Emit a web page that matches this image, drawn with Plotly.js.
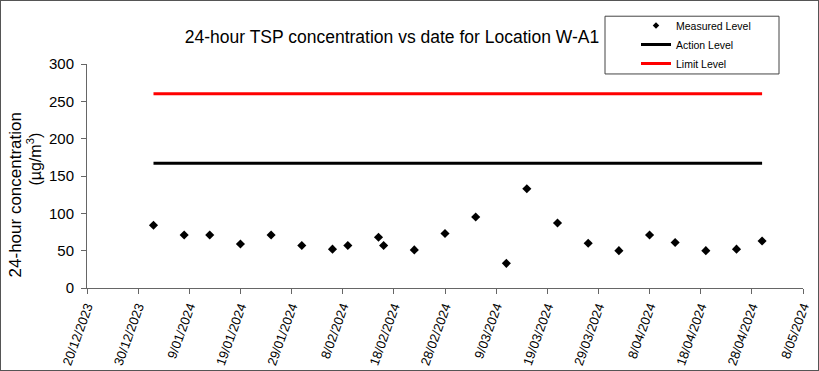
<!DOCTYPE html>
<html>
<head>
<meta charset="utf-8">
<script src="https://cdn.plot.ly/plotly-3.0.1.min.js"></script>
<style>
  html, body { margin: 0; padding: 0; background: #fff; }
  #wrap { position: relative; width: 819px; height: 371px; }
  #chart { width: 819px; height: 371px; }
  #frame { position: absolute; left: 0; top: 0; width: 819px; height: 371px; box-sizing: border-box; border: 1px solid #555; pointer-events: none; }
</style>
</head>
<body>
<div id="wrap"><div id="chart"></div><div id="frame"></div></div>
<script>
// Measured 24-hour TSP levels
const sampleDates = ['2024-01-02','2024-01-08','2024-01-13','2024-01-19','2024-01-25','2024-01-31',
  '2024-02-06','2024-02-09','2024-02-15','2024-02-16','2024-02-22','2024-02-28',
  '2024-03-05','2024-03-11','2024-03-15','2024-03-21','2024-03-27','2024-04-02',
  '2024-04-08','2024-04-13','2024-04-19','2024-04-25','2024-04-30'];
const measuredLevel = [84, 71, 71, 59, 71, 57, 52, 57, 68, 57, 51, 73, 95, 33, 133, 87, 60, 50, 71, 61, 50, 52, 63];
const levelDates = ['2024-01-02', '2024-04-30'];
const actionLevel = [167, 167];
const limitLevel = [260, 260];

const FONT = 'Liberation Sans, Arial, sans-serif';
const NARROW = 'Liberation Sans Narrow, Liberation Sans, Arial, sans-serif';

const traces = [
  { x: sampleDates, y: measuredLevel, type: 'scatter', mode: 'markers', name: 'Measured Level',
    showlegend: false, legendgroup: 'm',
    marker: { symbol: 'diamond', size: 7, color: '#000' } },
  // legend-only entry with a smaller symbol, as in the reference legend
  { x: [null], y: [null], type: 'scatter', mode: 'markers', name: 'Measured Level', legendgroup: 'm',
    marker: { symbol: 'diamond', size: 5, color: '#000' } },
  { x: levelDates, y: actionLevel, type: 'scatter', mode: 'lines', name: 'Action Level',
    line: { color: '#000', width: 3 } },
  { x: levelDates, y: limitLevel, type: 'scatter', mode: 'lines', name: 'Limit Level',
    line: { color: '#ff0000', width: 3 } }
];

const L = 87, R = 803, T = 63, B = 288;
const px = v => (v - L) / (R - L);
const py = v => (B - v) / (B - T);

const layout = {
  width: 819, height: 371,
  margin: { l: L, r: 819 - R, t: T, b: 371 - B },
  paper_bgcolor: '#fff', plot_bgcolor: '#fff',
  font: { family: FONT, color: '#000' },
  title: { text: '24-hour TSP concentration vs date for Location W-A1', font: { size: 17.5, family: FONT, color: '#000' },
    xref: 'container', yref: 'container', x: 392 / 819, y: 1 - 37 / 371, xanchor: 'center', yanchor: 'middle' },
  xaxis: {
    type: 'date', range: ['2023-12-20', '2024-05-08'],
    tick0: '2023-12-20', dtick: 864000000, tickformat: '%-d/%m/%Y',
    tickangle: -70, tickfont: { size: 13, family: FONT },
    ticks: 'outside', ticklen: 5, tickcolor: '#666',
    showline: true, linecolor: '#666', linewidth: 1, showgrid: false, zeroline: false
  },
  yaxis: {
    range: [0, 300], dtick: 50, tickfont: { size: 15, family: FONT },
    ticks: 'outside', ticklen: 5, tickcolor: '#666', ticklabelstandoff: 4,
    showline: true, linecolor: '#666', linewidth: 1, showgrid: false, zeroline: false
  },
  showlegend: true,
  legend: {
    x: px(636), y: py(11), xanchor: 'left', yanchor: 'top',
    font: { size: 10.5, family: NARROW }, bgcolor: 'rgba(0,0,0,0)', borderwidth: 0,
    tracegroupgap: 0, itemwidth: 30
  },
  shapes: [
    { type: 'rect', xref: 'paper', yref: 'paper', x0: px(605), x1: px(779), y0: py(73), y1: py(15),
      line: { color: '#444', width: 1 }, fillcolor: '#fff', layer: 'below' }
  ],
  annotations: [
    { text: '24-hour concentration', textangle: -90, xref: 'paper', yref: 'paper',
      x: px(15), y: py(195), xanchor: 'center', yanchor: 'middle', showarrow: false,
      font: { size: 17, family: FONT } },
    { text: '(µg/m<sup>3</sup>)', textangle: -90, xref: 'paper', yref: 'paper',
      x: px(34), y: py(158), xanchor: 'center', yanchor: 'middle', showarrow: false,
      font: { size: 16, family: FONT } }
  ]
};

Plotly.newPlot('chart', traces, layout, { staticPlot: true, displayModeBar: false });
</script>
</body>
</html>
